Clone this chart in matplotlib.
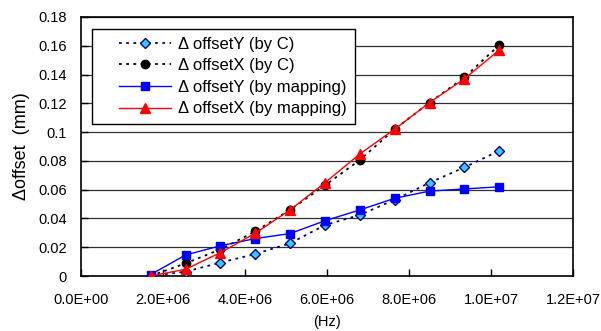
import matplotlib
matplotlib.use("Agg")
import matplotlib.pyplot as plt
from matplotlib.ticker import FuncFormatter, MultipleLocator
from matplotlib.lines import Line2D
from matplotlib.legend_handler import HandlerLine2D

plt.rcParams['font.family'] = ['Liberation Sans', 'DejaVu Sans']

freq = [1.7e6, 2.55e6, 3.4e6, 4.25e6, 5.1e6, 5.95e6, 6.8e6, 7.65e6, 8.5e6, 9.35e6, 10.2e6]
dy_c = [0.0, 0.003, 0.0093, 0.0153, 0.0227, 0.0354, 0.0424, 0.053, 0.0648, 0.0755, 0.087]
dx_c = [0.0, 0.0088, 0.0185, 0.031, 0.046, 0.063, 0.0806, 0.102, 0.1205, 0.138, 0.1605]
dy_map = [0.001, 0.0146, 0.021, 0.026, 0.0295, 0.0384, 0.0459, 0.054, 0.059, 0.0605, 0.062]
dx_map = [0.0, 0.0047, 0.0162, 0.0297, 0.0459, 0.0648, 0.0848, 0.102, 0.1205, 0.137, 0.157]

labels = ['Δ offsetY (by C)', 'Δ offsetX (by C)', 'Δ offsetY (by mapping)', 'Δ offsetX (by mapping)']
xticks = [0, 2e6, 4e6, 6e6, 8e6, 1e7, 1.2e7]

fig = plt.figure(figsize=(6.01, 3.31), dpi=100)
ax = fig.add_axes([81/601, 1-276/331, 492/601, 259/331])

dot = (0, (1.5, 2.5))
ax.plot(freq, dy_c, linestyle=dot, color='#000080', lw=1.3, marker='D', ms=5,
        mfc='#33CCFF', mec='#000080', mew=1.0, label=labels[0], zorder=3)
ax.plot(freq, dx_c, linestyle=dot, color='black', lw=1.3, marker='o', ms=6,
        mfc='black', mec='black', label=labels[1], zorder=3)
ax.plot(freq, dy_map, linestyle='-', color='#0000FF', lw=1.0, marker='s', ms=6,
        mfc='#0000FF', mec='#0000FF', label=labels[2], zorder=4)
ax.plot(freq, dx_map, linestyle='-', color='#FF0000', lw=1.0, marker='^', ms=7,
        mfc='#FF0000', mec='#FF0000', label=labels[3], zorder=5)

ax.set_xlim(0, 1.2e7)
ax.set_ylim(0, 0.18)
ax.set_xticks(xticks)
ax.yaxis.set_major_locator(MultipleLocator(0.02))
ax.xaxis.set_major_formatter(FuncFormatter(lambda v, p: f"{v:.1E}"))
ax.yaxis.set_major_formatter(FuncFormatter(lambda v, p: f"{round(v, 3):g}"))
ax.tick_params(axis='both', direction='in', length=5, width=1, labelsize=10.5, color='black')
ax.tick_params(axis='x', pad=12)
ax.tick_params(axis='y', pad=10)
ax.grid(axis='y', color='#303030', lw=0.9)
ax.set_axisbelow(True)
for s in ax.spines.values():
    s.set_color('black')
    s.set_linewidth(1.2)

ax.set_ylabel('Δoffset  (mm)', fontsize=13, labelpad=6)
ax.set_xlabel('(Hz)', fontsize=10.5, labelpad=6)

fs = 12 * 100 / 72
leg = ax.legend(loc='upper left', bbox_to_anchor=(11/492, 1-12/259), borderaxespad=0,
                fancybox=False, edgecolor='black', framealpha=1, fontsize=12,
                handlelength=71/fs, labelspacing=0.4, borderpad=0.45, handletextpad=8/fs,
                handler_map={Line2D: HandlerLine2D(xpad=19/fs)})
leg.get_frame().set_linewidth(1.0)
leg.set_zorder(10)

fig.savefig('out.png', dpi=100)
